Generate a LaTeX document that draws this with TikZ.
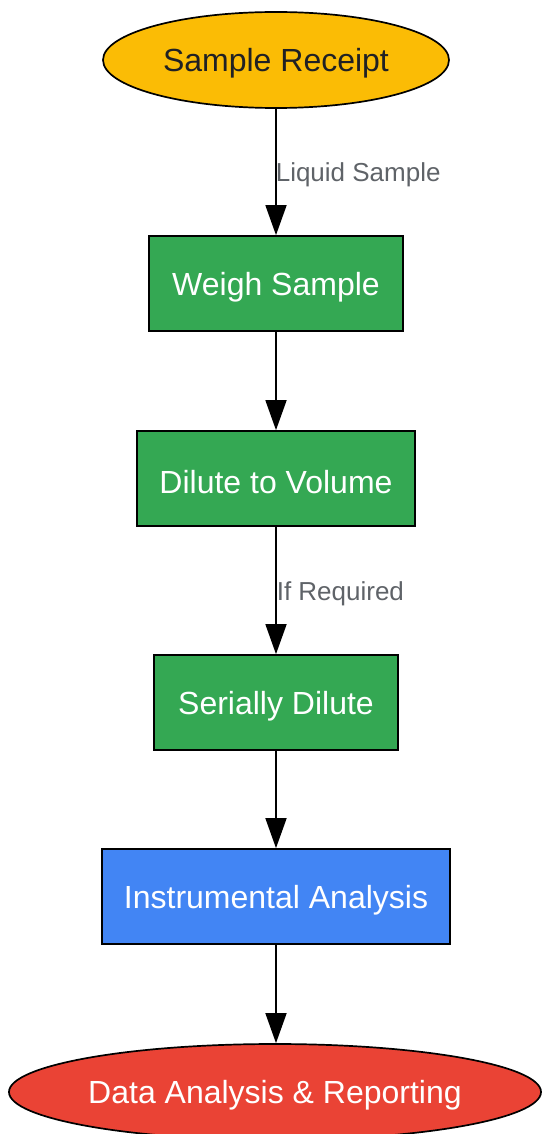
\documentclass[tikz,border=0pt]{standalone}
\usepackage{fontspec}
\setmainfont{Liberation Sans}
\usetikzlibrary{arrows.meta,shapes.geometric}
\definecolor{cyellow}{HTML}{FBBC05}
\definecolor{cgreen}{HTML}{34A853}
\definecolor{cblue}{HTML}{4285F4}
\definecolor{cred}{HTML}{EA4335}
\definecolor{cdark}{HTML}{202124}
\definecolor{cgray}{HTML}{5F6368}
\newcommand{\lowtxt}[1]{\raisebox{-3.5pt}[\height][\depth]{#1}}
\tikzset{
  base/.style={draw=black, line width=1.7pt, inner sep=0pt, font=\fontsize{32}{36}\selectfont},
  stepbox/.style={base, rectangle, fill=cgreen, text=white, minimum height=95pt},
  oval/.style={base, ellipse, minimum height=96pt},
  conn/.style={line width=1.6pt, -{Triangle[width=21pt,length=30pt]}},
  elabel/.style={text=cgray, font=\fontsize{26}{30}\selectfont, anchor=west, inner sep=0pt, yshift=-3pt}
}
\begin{document}
\begin{tikzpicture}[x=1pt,y=-1pt]
\useasboundingbox (0,0) rectangle (541,1134);
\node[oval, fill=cyellow, text=cdark, minimum width=346pt] (a) at (276,60) {\lowtxt{Sample Receipt}};
\node[stepbox, minimum width=254pt] (b) at (276,283.5) {\lowtxt{Weigh Sample}};
\node[stepbox, minimum width=278pt] (c) at (276,478.5) {\lowtxt{Dilute to Volume}};
\node[stepbox, minimum width=244pt] (d) at (276,702.5) {\lowtxt{Serially Dilute}};
\node[stepbox, fill=cblue, minimum width=348pt] (e) at (276,896.5) {\lowtxt{Instrumental Analysis}};
\node[oval, fill=cred, text=white, minimum width=532pt] (f) at (275,1092) {\lowtxt{Data Analysis \& Reporting}};
\draw[conn] (a) -- node[elabel, pos=0.5, xshift=-1pt] {Liquid Sample} (b);
\draw[conn] (b) -- (c);
\draw[conn] (c) -- node[elabel, pos=0.5, xshift=0pt] {If Required} (d);
\draw[conn] (d) -- (e);
\draw[conn] (e) -- (e |- f.north);
\end{tikzpicture}
\end{document}
